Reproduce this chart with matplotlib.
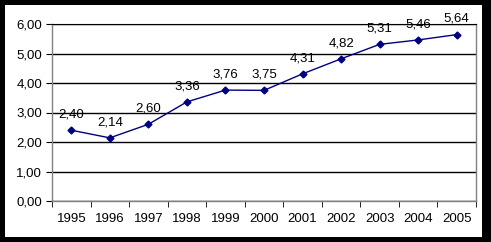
import numpy as np
import matplotlib
matplotlib.use("Agg")
import matplotlib.pyplot as plt
from matplotlib.patches import Rectangle

plt.rcParams["font.family"] = ["Liberation Sans", "DejaVu Sans"]

# data
years = ["1995", "1996", "1997", "1998", "1999", "2000",
         "2001", "2002", "2003", "2004", "2005"]
values = [2.40, 2.14, 2.60, 3.36, 3.76, 3.75, 4.31, 4.82, 5.31, 5.46, 5.64]
y_ticks = [0, 1, 2, 3, 4, 5, 6]

W, H = 491, 242
fig = plt.figure(figsize=(W / 100, H / 100), dpi=100)
fig.patch.set_facecolor("black")
fig.patches.append(Rectangle((5 / W, 5 / H), (482 - 5) / W, (237 - 5) / H,
                             transform=fig.transFigure, facecolor="white",
                             edgecolor="none", zorder=-10))

ax = fig.add_axes([52 / W, 1 - 201 / H, (476 - 52) / W, (201 - 24) / H])
ax.set_facecolor("white")

x = np.arange(len(years))
ax.plot(x, values, color="#000080", lw=1.0, marker="D", ms=3.5,
        mfc="#000080", mec="#000080", zorder=3, clip_on=False)
for xi, v in zip(x, values):
    ax.annotate(f"{v:.2f}".replace(".", ","), (xi, v), xytext=(0, 7),
                textcoords="offset points", ha="center", va="bottom",
                fontsize=9.5, color="black")

ax.set_xlim(-0.5, len(years) - 0.5)
ax.set_ylim(0, 6)
ax.set_yticks(y_ticks)
ax.set_yticklabels([f"{t:.2f}".replace(".", ",") for t in y_ticks], fontsize=9.5)
ax.yaxis.grid(True, color="black", lw=1.0)
ax.set_axisbelow(True)

ax.set_xticks(x)
ax.set_xticklabels(years, fontsize=9.5)
ax.set_xticks(np.arange(-0.5, len(years)), minor=True)
ax.tick_params(axis="x", which="major", length=0, pad=9)
ax.tick_params(axis="x", which="minor", length=4, color="black", direction="out")
ax.tick_params(axis="y", length=4, color="black", direction="out", pad=3)

for side in ["left", "bottom", "right"]:
    ax.spines[side].set_color("#808080")
    ax.spines[side].set_linewidth(1.0)
ax.spines["top"].set_color("black")

fig.savefig("out.png", dpi=100, facecolor=fig.get_facecolor())
